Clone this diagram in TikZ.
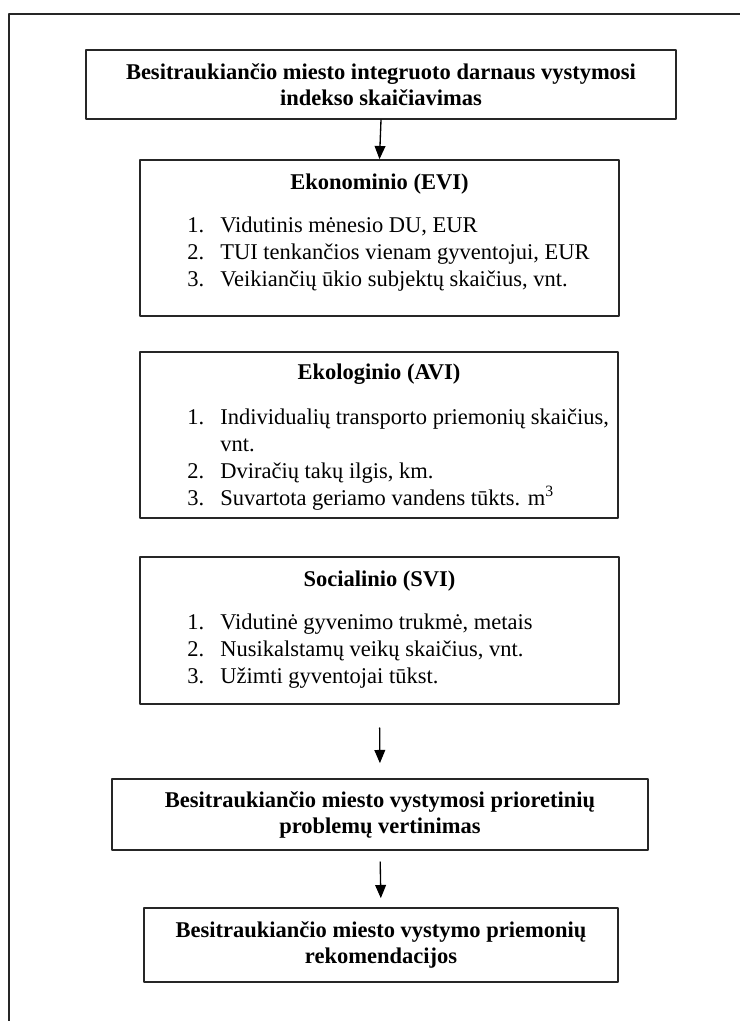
\documentclass[tikz,border=0pt]{standalone}
\usepackage{fontspec}
\setmainfont{Liberation Serif}
\usepackage{tikz}
\usetikzlibrary{arrows,calc}
\newcommand{\pxu}{0.6pt}

\tikzset{
  frame/.style={draw=black!85,line width=1.2pt},
  box/.style={draw=black!85,line width=1.1pt,inner sep=0pt,align=center,
    font=\fontsize{13.5}{15.6}\selectfont\bfseries},
  boxtitle/.style={anchor=base,inner sep=0pt,font=\fontsize{13.5}{15}\selectfont\bfseries},
  itemlist/.style={anchor=north west,inner sep=0pt,font=\fontsize{13.5}{16.2}\selectfont},
  arr/.style={->,draw=black,line width=0.8pt}
}

\begin{document}
\begin{tikzpicture}[x=0.6pt,y=-0.6pt,line cap=round,line join=round,>=triangle 45]
\useasboundingbox (0,0) rectangle (739,1021);
% outer frame (open at right and bottom)
\draw[frame] (745,14) -- (9,14) -- (9,1030);

% index box
\node[box,minimum width=590*\pxu,minimum height=69*\pxu] (index) at (381,84.5)
  {Besitraukiančio miesto integruoto darnaus vystymosi\\indekso skaičiavimas};

% economic
\node[box,minimum width=479*\pxu,minimum height=156*\pxu] (evi) at (379.5,238) {};
\node[boxtitle] (evititle) at (379.5,189) {Ekonominio (EVI)};
\node[itemlist] (eviitems) at (187,213) {\begin{tabular}{@{}p{19.8pt}@{}l@{}}
1. & Vidutinis mėnesio DU, EUR\\
2. & TUI tenkančios vienam gyventojui, EUR\\
3. & Veikiančių ūkio subjektų skaičius, vnt.
\end{tabular}};

% ecological
\node[box,minimum width=478*\pxu,minimum height=166*\pxu] (avi) at (379,435) {};
\node[boxtitle] (avititle) at (379,379) {Ekologinio (AVI)};
\node[itemlist] (aviitems) at (187,405) {\begin{tabular}{@{}p{19.8pt}@{}l@{}}
1. & Individualių transporto priemonių skaičius,\\
   & vnt.\\
2. & Dviračių takų ilgis, km.\\
3. & Suvartota geriamo vandens tūkts. m\textsuperscript{3}
\end{tabular}};

% social
\node[box,minimum width=479*\pxu,minimum height=147*\pxu] (svi) at (379.5,630.5) {};
\node[boxtitle] (svititle) at (379.5,586) {Socialinio (SVI)};
\node[itemlist] (sviitems) at (187,610) {\begin{tabular}{@{}p{19.8pt}@{}l@{}}
1. & Vidutinė gyvenimo trukmė, metais\\
2. & Nusikalstamų veikų skaičius, vnt.\\
3. & Užimti gyventojai tūkst.
\end{tabular}};

% priorities and measures
\node[box,minimum width=536*\pxu,minimum height=71*\pxu] (prob) at (380,814.5)
  {Besitraukiančio miesto vystymosi prioretinių\\problemų vertinimas};
\node[box,minimum width=474*\pxu,minimum height=74*\pxu] (rec) at (381,945)
  {Besitraukiančio miesto vystymo priemonių\\rekomendacijos};

% arrows
\draw[arr] (index.south) -- (evi.north);
\draw[arr,shorten <=13.8pt,shorten >=9pt] (svi.south) -- (prob.north);
\draw[arr,shorten <=6.6pt,shorten >=5.4pt] (prob.south) -- (rec.north);
\end{tikzpicture}
\end{document}
